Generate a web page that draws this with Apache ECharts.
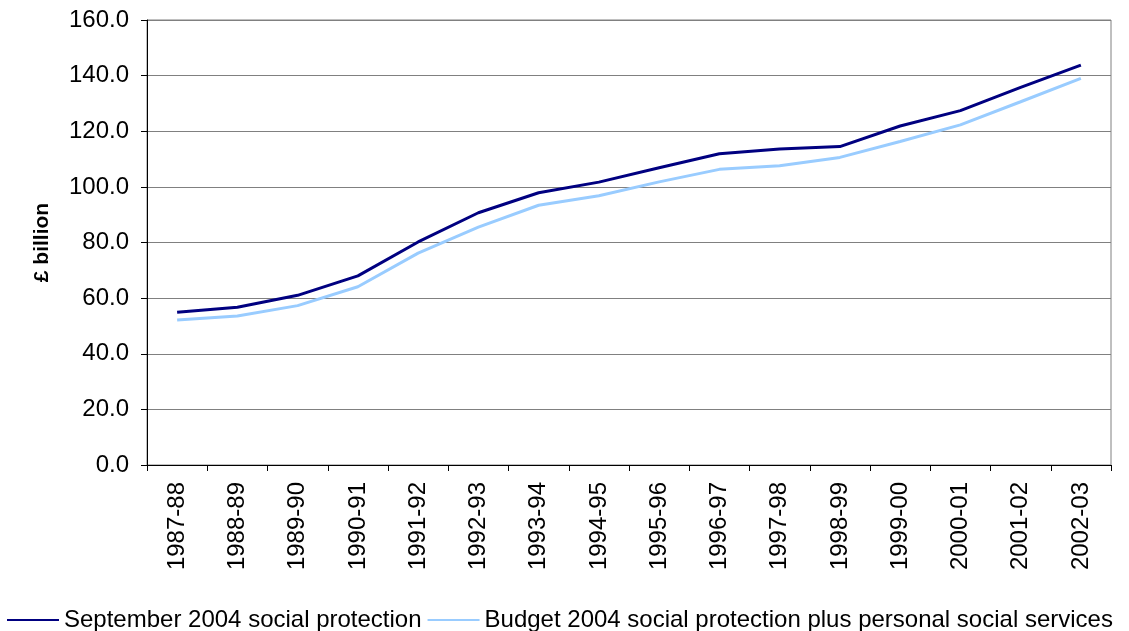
<!DOCTYPE html>
<html>
<head>
<meta charset="utf-8">
<script src="https://cdn.jsdelivr.net/npm/echarts@6/dist/echarts.min.js"></script>
<style>
  html, body { margin: 0; padding: 0; background: #ffffff; }
  #chart { width: 1129px; height: 631px; }
</style>
</head>
<body>
<div id="chart"></div>
<script>
// Financial years on the category axis
const years = ['1987-88', '1988-89', '1989-90', '1990-91', '1991-92', '1992-93', '1993-94', '1994-95',
  '1995-96', '1996-97', '1997-98', '1998-99', '1999-00', '2000-01', '2001-02', '2002-03'];

// Spending, £ billion
const september2004 = [54.9, 56.7, 61.0, 68.0, 80.2, 90.7, 97.9, 101.7, 106.9, 111.9, 113.6, 114.5, 121.9, 127.4, 135.8, 143.8];
const budget2004 = [52.1, 53.6, 57.3, 64.1, 76.2, 85.5, 93.4, 96.8, 101.8, 106.3, 107.6, 110.6, 116.3, 122.3, 130.6, 139.0];

const seriesNames = ['September 2004 social protection', 'Budget 2004 social protection plus personal social services'];

const FONT = 'Liberation Sans, Arial, sans-serif';

const chart = echarts.init(document.getElementById('chart'), null, { renderer: 'canvas' });

chart.setOption({
  animation: false,
  backgroundColor: '#ffffff',
  grid: {
    left: 147, right: 18, top: 20, bottom: 166,
    show: true, borderColor: '#808080', borderWidth: 1, backgroundColor: 'transparent'
  },
  legend: {
    data: seriesNames,
    left: 2, top: 603,
    icon: 'rect', itemWidth: 52, itemHeight: 2, itemGap: 6,
    textStyle: { fontFamily: FONT, fontSize: 24, color: '#000000', padding: [0, 0, 0, 0] }
  },
  xAxis: {
    type: 'category',
    data: years,
    boundaryGap: true,
    axisLine: { lineStyle: { color: '#000000', width: 1 } },
    axisTick: { show: true, length: 6, lineStyle: { color: '#000000' } },
    axisLabel: { rotate: 90, margin: 17, fontFamily: FONT, fontSize: 24, color: '#000000' },
    splitLine: { show: false }
  },
  yAxis: {
    type: 'value',
    min: 0, max: 160, interval: 20,
    name: '£ billion',
    nameLocation: 'middle',
    nameGap: 94,
    nameRotate: 90,
    nameTextStyle: { fontFamily: FONT, fontSize: 21, fontWeight: 'bold', color: '#000000' },
    axisLine: { show: true, lineStyle: { color: '#000000', width: 1 } },
    axisTick: { show: true, length: 6, lineStyle: { color: '#000000' } },
    axisLabel: { margin: 18, fontFamily: FONT, fontSize: 24, color: '#000000', formatter: v => v.toFixed(1) },
    splitLine: { show: true, lineStyle: { color: '#808080', width: 1 } }
  },
  series: [
    {
      name: seriesNames[0], type: 'line', data: september2004,
      symbol: 'none', lineStyle: { color: '#000080', width: 3 }, itemStyle: { color: '#000080' }
    },
    {
      name: seriesNames[1], type: 'line', data: budget2004,
      symbol: 'none', lineStyle: { color: '#99CCFF', width: 3 }, itemStyle: { color: '#99CCFF' }
    }
  ]
});
</script>
</body>
</html>
